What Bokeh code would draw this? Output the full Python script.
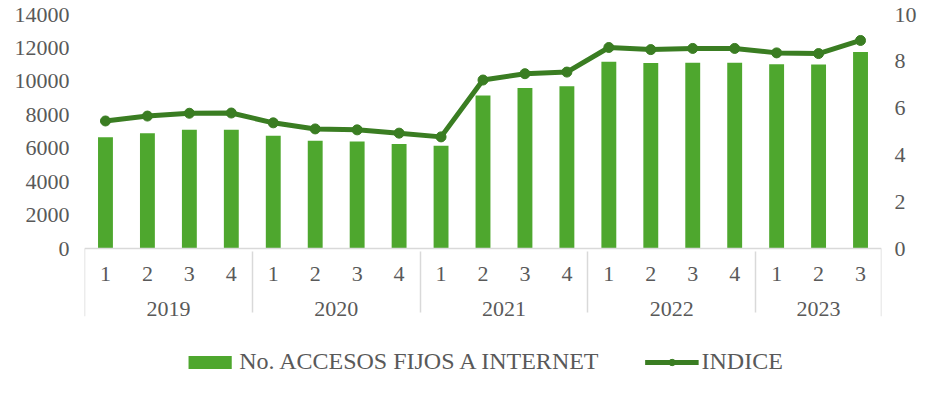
from bokeh.plotting import figure
from bokeh.models import (ColumnDataSource, FactorRange, Range1d, LinearAxis,
                          FixedTicker, Legend, LegendItem)
from bokeh.embed import file_html
from bokeh.resources import INLINE

# ---- data ----
years = ["2019"] * 4 + ["2020"] * 4 + ["2021"] * 4 + ["2022"] * 4 + ["2023"] * 3
quarters = ["1", "2", "3", "4"] * 4 + ["1", "2", "3"]
accesos = [6650, 6900, 7100, 7100, 6750, 6450, 6400, 6250, 6150,
           9150, 9600, 9700, 11180, 11100, 11120, 11120, 11030, 11010, 11750]
indice = [5.45, 5.66, 5.78, 5.79, 5.37, 5.11, 5.07, 4.93, 4.77,
          7.20, 7.47, 7.54, 8.59, 8.50, 8.55, 8.55, 8.36, 8.33, 8.89]
left_ticks = [0, 2000, 4000, 6000, 8000, 10000, 12000, 14000]
right_ticks = [0, 2, 4, 6, 8, 10]
bar_label = "No. ACCESOS FIJOS A INTERNET"
line_label = "INDICE"

factors = list(zip(years, quarters))
src = ColumnDataSource(dict(x=factors, accesos=accesos, indice=indice))

BAR = "#4EA72E"
LINE = "#3A7D22"
TXT = "#595959"
SEP = "#D9D9D9"
FONT = "Liberation Serif"

# the frame reaches below zero so the category axis and the legend sit inside it
LEFT_MAX, RIGHT_MAX = 14000, 10
BELOW = 130 / 234  # fraction of the value span drawn below zero
SEP_DEPTH = 0.29   # outer separator depth, as a fraction of the value span

p = figure(width=921, height=378, output_backend="svg", toolbar_location=None,
           x_range=FactorRange(*factors, group_padding=0, range_padding=0),
           y_range=Range1d(-LEFT_MAX * BELOW, LEFT_MAX),
           min_border_left=84, min_border_right=40, min_border_top=14,
           min_border_bottom=0)
p.outline_line_color = None
p.grid.visible = False
p.extra_y_ranges = {"right": Range1d(-RIGHT_MAX * BELOW, RIGHT_MAX)}

# outer separators at both ends of the category axis
first, last = factors[0], factors[-1]
p.segment(x0=[(*first, -0.5), (*last, 0.5)], x1=[(*first, -0.5), (*last, 0.5)],
          y0=[0, 0], y1=[-LEFT_MAX * SEP_DEPTH] * 2,
          line_color=SEP, line_width=1.5)

bars = p.vbar(x="x", top="accesos", width=0.355, source=src,
              fill_color=BAR, line_color=None)
ln = p.line(x="x", y="indice", source=src, y_range_name="right",
            line_color=LINE, line_width=5, line_join="round")
pts = p.scatter(x="x", y="indice", source=src, y_range_name="right",
                size=10, fill_color=LINE, line_color=LINE)

# left axis
ya = p.yaxis[0]
ya.ticker = FixedTicker(ticks=left_ticks)
ya.axis_line_color = None
ya.major_tick_line_color = None
ya.minor_tick_line_color = None
ya.major_tick_out = 0
ya.major_label_standoff = 15
ya.major_label_text_font = FONT
ya.major_label_text_font_size = "22px"
ya.major_label_text_color = TXT

# right axis
ra = LinearAxis(y_range_name="right", ticker=FixedTicker(ticks=right_ticks))
ra.axis_line_color = None
ra.major_tick_line_color = None
ra.minor_tick_line_color = None
ra.major_tick_out = 0
ra.major_label_standoff = 13
ra.major_label_text_font = FONT
ra.major_label_text_font_size = "22px"
ra.major_label_text_color = TXT
p.add_layout(ra, "right")

# x axis (nested categories) placed at value 0
xa = p.xaxis[0]
xa.fixed_location = 0
xa.axis_line_color = SEP
xa.axis_line_width = 1.5
xa.major_tick_line_color = None
xa.minor_tick_line_color = None
xa.major_tick_out = 0
xa.major_label_standoff = 18
xa.major_label_text_font = FONT
xa.major_label_text_font_size = "22px"
xa.major_label_text_color = TXT
xa.group_text_font = FONT
xa.group_text_font_size = "22px"
xa.group_text_color = TXT
xa.group_text_font_style = "normal"
xa.separator_line_color = SEP
xa.separator_line_width = 1.5

legend = Legend(items=[LegendItem(label=bar_label, renderers=[bars]),
                       LegendItem(label=line_label, renderers=[ln, pts])],
                orientation="horizontal", location="bottom",
                border_line_color=None, background_fill_alpha=0,
                label_text_font=FONT, label_text_font_size="24px",
                label_text_color=TXT, glyph_width=54, glyph_height=16,
                label_standoff=3, spacing=46, padding=0, margin=3)
p.add_layout(legend, "center")

open("out.html", "w").write(file_html(p, INLINE))
